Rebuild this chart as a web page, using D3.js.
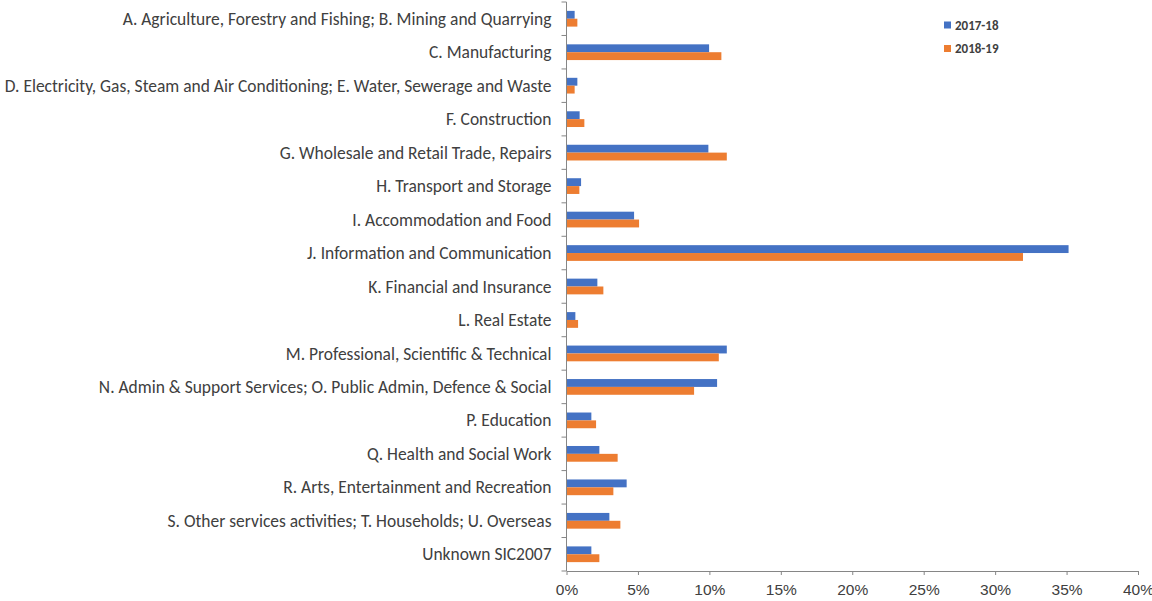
<!DOCTYPE html>
<html>
<head>
<meta charset="utf-8">
<script src="https://cdn.jsdelivr.net/npm/d3@7/dist/d3.min.js"></script>
<style>
  html, body { margin: 0; padding: 0; background: #fff; }
  svg { display: block; font-family: Carlito, "Open Sans", Lato, sans-serif; }
  .axis path, .axis line { stroke: #868686; stroke-width: 1; }
  .axis text { fill: #404040; }
</style>
</head>
<body>
<svg id="chart" width="1152" height="601"></svg>
<script>
const categories = [
  'A. Agriculture, Forestry and Fishing; B. Mining and Quarrying',
  'C. Manufacturing',
  'D. Electricity, Gas, Steam and Air Conditioning; E. Water, Sewerage and Waste',
  'F. Construction',
  'G. Wholesale and Retail Trade, Repairs',
  'H. Transport and Storage',
  'I. Accommodation and Food',
  'J. Information and Communication',
  'K. Financial and Insurance',
  'L. Real Estate',
  'M. Professional, Scientific & Technical',
  'N. Admin & Support Services; O. Public Admin, Defence & Social',
  'P. Education',
  'Q. Health and Social Work',
  'R. Arts, Entertainment and Recreation',
  'S. Other services activities; T. Households; U. Overseas',
  'Unknown SIC2007'
];
const series = ['2017-18', '2018-19'];
const values1718 = [0.57, 9.98, 0.76, 0.92, 9.93, 1.02, 4.73, 35.14, 2.16, 0.62, 11.22, 10.54, 1.74, 2.30, 4.21, 3.00, 1.74];
const values1819 = [0.76, 10.84, 0.57, 1.25, 11.22, 0.90, 5.08, 31.95, 2.58, 0.81, 10.66, 8.93, 2.07, 3.58, 3.28, 3.77, 2.30];
const xTicks = [0, 5, 10, 15, 20, 25, 30, 35, 40];
const colors = ['#4472C4', '#ED7D31'];

const svg = d3.select('#chart');
const margin = { top: 2, right: 14, bottom: 30, left: 566.5 };
const width = 1152, height = 601;

const rows = categories.map((name, i) => ({ name, values: [values1718[i], values1819[i]] }));

const x = d3.scaleLinear().domain([0, 40]).range([margin.left, width - margin.right]);
const y = d3.scaleBand().domain(categories).range([margin.top, height - margin.bottom]).paddingInner(0.53).paddingOuter(0.265);
const inner = d3.scaleBand().domain(series).range([0, y.bandwidth()]);

// bars
const groups = svg.append('g').selectAll('g').data(rows).join('g')
  .attr('transform', (d) => `translate(0,${y(d.name)})`);
groups.selectAll('rect').data((d) => d.values.map((v, i) => ({ v, s: series[i], i }))).join('rect')
  .attr('x', x(0))
  .attr('y', (d) => inner(d.s))
  .attr('width', (d) => x(d.v) - x(0))
  .attr('height', inner.bandwidth())
  .attr('fill', (d) => colors[d.i]);

// bottom axis
const xAxis = svg.append('g').attr('class', 'axis')
  .attr('transform', `translate(0,${height - margin.bottom})`)
  .call(d3.axisBottom(x).tickValues(xTicks).tickFormat((d) => d + '%').tickSize(4).tickSizeOuter(0));
xAxis.selectAll('text').attr('y', 0).attr('dy', '1.55em');

// left axis: ticks sit on category boundaries
const edges = [margin.top, ...categories.map((c) => y(c) - y.step() * y.paddingInner() / 2).slice(1), height - margin.bottom];
const yAxis = svg.append('g').attr('class', 'axis');
yAxis.append('line').attr('x1', x(0)).attr('x2', x(0)).attr('y1', margin.top).attr('y2', height - margin.bottom);
yAxis.selectAll('.tick').data(edges).join('line')
  .attr('x1', x(0) - 5).attr('x2', x(0)).attr('y1', (d) => d).attr('y2', (d) => d);

// category labels
const labels = svg.append('g').selectAll('text').data(categories).join('text')
  .attr('x', x(0) - 15)
  .attr('y', (d) => y(d) + y.bandwidth() / 2)
  .attr('dy', '0.35em')
  .attr('text-anchor', 'end')
  .attr('fill', '#404040')
  .attr('font-size', 15)
  .text((d) => d);

// fit the label font so the longest label spans like the original
const longest = labels.filter((d) => d === categories[2]).node().getComputedTextLength();
const labelSize = 15 * 547 / longest;
labels.attr('font-size', labelSize);
xAxis.selectAll('text').attr('font-size', Math.min(labelSize, 15.5));

// legend
const legend = svg.append('g').attr('transform', 'translate(944,25)');
const item = legend.selectAll('g').data(series).join('g')
  .attr('transform', (d, i) => `translate(0,${i * 23.5})`);
item.append('rect').attr('x', 0).attr('y', -3.5).attr('width', 7).attr('height', 7).attr('fill', (d, i) => colors[i]);
item.append('text').attr('x', 11).attr('dy', '0.35em').attr('font-size', 13).attr('font-weight', 'bold').attr('fill', '#404040').text((d) => d);
</script>
</body>
</html>
